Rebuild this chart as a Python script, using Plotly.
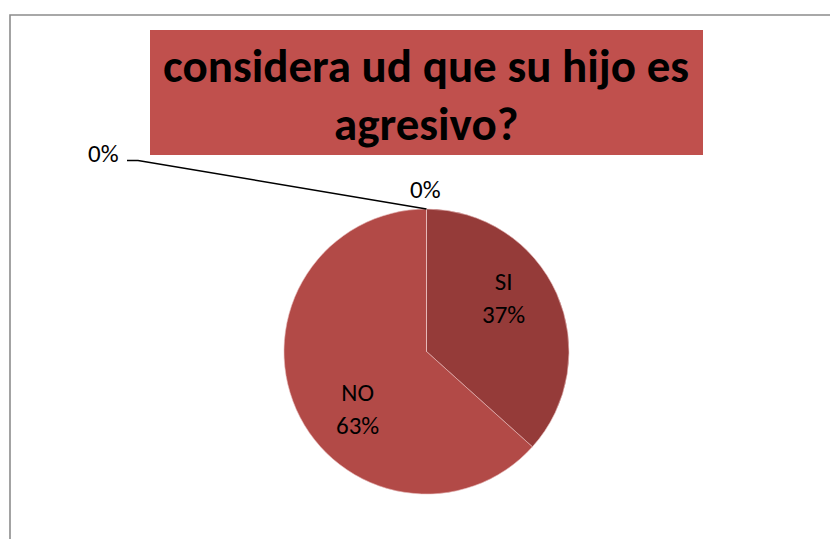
import plotly.graph_objects as go

categories = ["SI", "NO", "", " "]
values = [11, 19, 0, 0]
colors = ["#953B39", "#B24A47", "#C0504D", "#C0504D"]
title_lines = ["considera ud que su hijo es", "agresivo?"]
zero_labels = ["0%", "0%"]

W, H = 830, 539
FONT = "Carlito, Lato, sans-serif"

def px(x):
    return x / W

def py(y):
    return 1 - y / H

total = sum(values)
pct = [round(100 * v / total) for v in values]

fig = go.Figure()
fig.add_trace(go.Pie(
    labels=categories,
    values=values,
    sort=False,
    direction="clockwise",
    rotation=0,
    marker=dict(colors=colors, line=dict(color="#E6B9B8", width=0.6)),
    textinfo="none",
    domain=dict(x=[px(284), px(569)], y=[py(494), py(209)]),
    showlegend=False,
    hoverinfo="label+percent",
))

shapes = [
    # chart border (top + left)
    dict(type="path", xref="paper", yref="paper",
         path=f"M {px(10)} -0.05 L {px(10)} {py(15)} L 1.05 {py(15)}",
         line=dict(color="#8C8C8C", width=1.6), layer="below"),
    # title box
    dict(type="rect", xref="paper", yref="paper", x0=px(150), x1=px(703), y0=py(155), y1=py(30),
         line=dict(width=0), fillcolor="#C0504D", layer="below"),
    # leader line
    dict(type="path", xref="paper", yref="paper",
         path=f"M {px(127)} {py(160.5)} L {px(138)} {py(160.5)} L {px(426.5)} {py(209)}",
         line=dict(color="black", width=1.5)),
]

annotations = [
    dict(text=f"<b>{title_lines[0]}</b>", x=px(426), y=py(66), xref="paper", yref="paper",
         showarrow=False, font=dict(family=FONT, size=47, color="black"),
         xanchor="center", yanchor="middle"),
    dict(text=f"<b>{title_lines[1]}</b>", x=px(426), y=py(124), xref="paper", yref="paper",
         showarrow=False, font=dict(family=FONT, size=47, color="black"),
         xanchor="center", yanchor="middle"),
    dict(text=zero_labels[0], x=px(103.5), y=py(153.5), xref="paper", yref="paper",
         showarrow=False, font=dict(family=FONT, size=25, color="black"),
         xanchor="center", yanchor="middle"),
    dict(text=zero_labels[1], x=px(426), y=py(189.5), xref="paper", yref="paper",
         showarrow=False, font=dict(family=FONT, size=25, color="black"),
         xanchor="center", yanchor="middle"),
    dict(text=f"{categories[0]}<br>{pct[0]}%", x=px(503), y=py(298), xref="paper", yref="paper",
         showarrow=False, font=dict(family=FONT, size=25, color="black"),
         xanchor="center", yanchor="middle"),
    dict(text=f"{categories[1]}<br>{pct[1]}%", x=px(357), y=py(409), xref="paper", yref="paper",
         showarrow=False, font=dict(family=FONT, size=25, color="black"),
         xanchor="center", yanchor="middle"),
]

fig.update_layout(
    width=W, height=H,
    margin=dict(l=0, r=0, t=0, b=0),
    paper_bgcolor="white",
    plot_bgcolor="white",
    shapes=shapes,
    annotations=annotations,
)

fig.write_html(
    "out.html",
    config={"displayModeBar": False},
    post_script="document.body.style.margin='0';document.documentElement.style.overflow='hidden';document.body.style.overflow='hidden';",
)
